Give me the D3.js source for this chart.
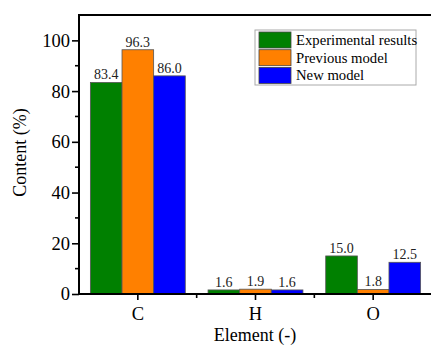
<!DOCTYPE html>
<html>
<head>
<meta charset="utf-8">
<script src="https://cdn.jsdelivr.net/npm/d3@7"></script>
</head>
<body style="margin:0; background:#fff">
<script>
var elements = ["C", "H", "O"];
var seriesNames = ["Experimental results", "Previous model", "New model"];
var seriesColors = ["#008000", "#ff8000", "#0000ff"];
var experimental = [83.4, 1.6, 15.0];
var previousModel = [96.3, 1.9, 1.8];
var newModel = [86.0, 1.6, 12.5];
var yTicks = [0, 20, 40, 60, 80, 100];

var width = 431, height = 346;
var margin = { top: 15, right: 0, bottom: 52, left: 79 };
var serif = "'Liberation Serif'";

var svg = d3.select("body").append("svg")
    .attr("width", width)
    .attr("height", height);

var x = d3.scaleBand()
    .domain(elements)
    .range([margin.left, 432])
    .paddingInner(0)
    .paddingOuter(0);

var xSub = d3.scaleBand()
    .domain(seriesNames)
    .range([0, x.bandwidth()])
    .paddingInner(0)
    .paddingOuter(0.36);

var y = d3.scaleLinear()
    .domain([0, 110])
    .range([height - margin.bottom, margin.top]);

var series = [experimental, previousModel, newModel];

// bars
var groups = svg.append("g").selectAll("g")
    .data(elements)
    .enter().append("g")
    .attr("transform", function (d) { return "translate(" + x(d) + ",0)"; });

groups.selectAll("rect")
    .data(function (d, i) {
        return series.map(function (s, j) { return { name: seriesNames[j], value: s[i], color: seriesColors[j] }; });
    })
    .enter().append("rect")
    .attr("x", function (d) { return xSub(d.name); })
    .attr("y", function (d) { return y(d.value); })
    .attr("width", xSub.bandwidth())
    .attr("height", function (d) { return y(0) - y(d.value); })
    .attr("fill", function (d) { return d.color; })
    .attr("stroke", "#555")
    .attr("stroke-width", 0.8);

groups.selectAll("text")
    .data(function (d, i) {
        return series.map(function (s, j) { return { name: seriesNames[j], value: s[i] }; });
    })
    .enter().append("text")
    .attr("x", function (d) { return xSub(d.name) + xSub.bandwidth() / 2; })
    .attr("y", function (d) { return y(d.value) - 3; })
    .attr("text-anchor", "middle")
    .style("font-size", "14px")
    .attr("fill", "#222")
    .text(function (d) { return d.value.toFixed(1); });

// y axis
var yAxis = d3.axisLeft(y)
    .tickValues(yTicks)
    .tickSize(7)
    .tickPadding(2);

var yG = svg.append("g")
    .attr("transform", "translate(" + margin.left + ",0)")
    .call(yAxis);
yG.select(".domain").remove();
yG.selectAll(".tick line").attr("stroke-width", 1.6);
yG.selectAll(".tick text")
    .style("font-size", "18.5px")
    .attr("fill", "#000");

svg.append("g")
    .selectAll("line")
    .data([10, 30, 50, 70, 90])
    .enter().append("line")
    .attr("x1", margin.left - 4)
    .attr("x2", margin.left)
    .attr("y1", function (d) { return y(d); })
    .attr("y2", function (d) { return y(d); })
    .attr("stroke", "#000")
    .attr("stroke-width", 1.6);

svg.append("line")
    .attr("x1", margin.left).attr("x2", margin.left)
    .attr("y1", margin.top - 1).attr("y2", y(0) + 1)
    .attr("stroke", "#000").attr("stroke-width", 2);

// top frame line
svg.append("line")
    .attr("x1", margin.left - 1).attr("x2", width)
    .attr("y1", margin.top).attr("y2", margin.top)
    .attr("stroke", "#000").attr("stroke-width", 2);

// x axis
var xAxis = d3.axisBottom(x)
    .tickSize(6)
    .tickPadding(7);

var xG = svg.append("g")
    .attr("transform", "translate(0," + y(0) + ")")
    .call(xAxis);
xG.select(".domain").remove();
xG.selectAll(".tick line").attr("stroke-width", 1.6);
xG.selectAll(".tick text")
    .style("font-size", "18.5px")
    .attr("fill", "#000");

svg.append("g")
    .selectAll("line")
    .data(elements.slice(1))
    .enter().append("line")
    .attr("x1", function (d) { return x(d); })
    .attr("x2", function (d) { return x(d); })
    .attr("y1", y(0))
    .attr("y2", y(0) + 4)
    .attr("stroke", "#000")
    .attr("stroke-width", 1.6);

svg.append("line")
    .attr("x1", margin.left - 1).attr("x2", width)
    .attr("y1", y(0)).attr("y2", y(0))
    .attr("stroke", "#000").attr("stroke-width", 2);

// axis titles
svg.append("text")
    .attr("transform", "translate(26,152.5) rotate(-90)")
    .attr("text-anchor", "middle")
    .style("font-size", "18px")
    .text("Content (%)");

svg.append("text")
    .attr("x", 255)
    .attr("y", 341)
    .attr("text-anchor", "middle")
    .style("font-size", "18px")
    .text("Element (-)");

// legend
var legend = svg.append("g").attr("transform", "translate(255,30)");
legend.append("rect")
    .attr("width", 161).attr("height", 55)
    .attr("fill", "#fff").attr("stroke", "#aaa").attr("stroke-width", 1);

var items = legend.selectAll("g.item")
    .data(seriesNames)
    .enter().append("g")
    .attr("class", "item")
    .attr("transform", function (d, i) { return "translate(4," + (2 + i * 17.7) + ")"; });

items.append("rect")
    .attr("width", 32).attr("height", 16)
    .attr("fill", function (d, i) { return seriesColors[i]; })
    .attr("stroke", "#444").attr("stroke-width", 0.8);

items.append("text")
    .attr("x", 37).attr("y", 13)
    .style("font-size", "14.7px")
    .text(function (d) { return d; });

svg.selectAll("text").style("font-family", serif);
</script>
</body>
</html>
